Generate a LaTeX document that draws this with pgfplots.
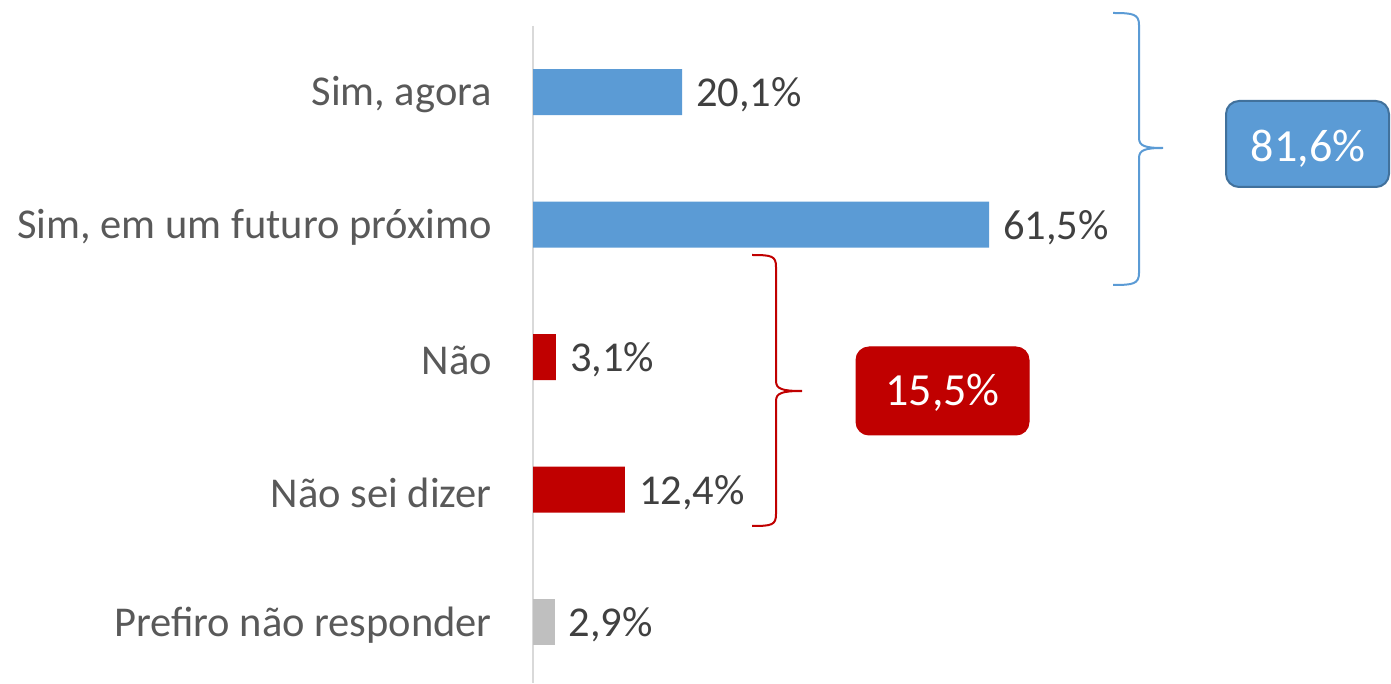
\documentclass[border=0pt]{standalone}
\usepackage{fontspec}
\setmainfont{Carlito}
\usepackage{pgfplots}
\pgfplotsset{compat=1.18}
\definecolor{barblue}{HTML}{5B9BD5}
\definecolor{barred}{HTML}{C00000}
\definecolor{bargray}{HTML}{BFBFBF}
\definecolor{labgray}{HTML}{595959}
\definecolor{valgray}{HTML}{404040}
\definecolor{boxedge}{HTML}{41719C}
\begin{document}
\begin{tikzpicture}
\begin{axis}[at={(533pt,0pt)},anchor=south west,
scale only axis,width=858pt,height=657.25pt,
xmin=0,xmax=115.7,ymin=-0.5,ymax=4.4604,y dir=reverse,
xbar,bar width=46pt,bar shift=0pt,
axis x line=none,axis y line=left,
y axis line style={draw=black!15,line width=1.5pt,-},
ytick={0,1,2,3,4},
yticklabels={{Sim, agora},{Sim, em um futuro próximo},{Não},{Não sei dizer},{Prefiro não responder}},
major tick length=0pt,
yticklabel style={font=\fontsize{42.5}{50}\selectfont,text=labgray,anchor=east,inner sep=0pt,xshift=-41pt,yshift=-3pt},
nodes near coords={\pgfmathprintnumber[fixed,fixed zerofill,precision=1,use comma,assume math mode=true]{\pgfplotspointmeta}\%},
nodes near coords style={font=\fontsize{42.5}{50}\selectfont,text=valgray,anchor=west,inner sep=0pt,xshift=14pt,yshift=-3pt},
point meta=x,clip=false]
\addplot[draw=none,fill=barblue] coordinates {(20.1,0) (61.5,1)};
\addplot[draw=none,fill=barred] coordinates {(3.1,2) (12.4,3)};
\addplot[draw=none,fill=bargray] coordinates {(2.9,4)};
\end{axis}
\begin{scope}[shift={(0pt,683pt)},x=1pt,y=-1pt]
\draw[barblue,line width=2pt] (1113,13) .. controls (1133,13) and (1139,14) .. (1139,25) -- (1139,138)
  .. controls (1139,146) and (1145,148) .. (1163,148) .. controls (1145,148) and (1139,150) .. (1139,158)
  -- (1139,273) .. controls (1139,284) and (1133,285) .. (1113,285);
\draw[barred,line width=2pt] (752,255) .. controls (772,255) and (776,256) .. (776,267) -- (776,381)
  .. controls (776,389) and (782,391) .. (802,391) .. controls (782,391) and (776,393) .. (776,401)
  -- (776,514) .. controls (776,525) and (772,526) .. (752,526);
\draw[fill=barblue,draw=boxedge,line width=2pt,rounded corners=13pt] (1226,101) rectangle (1389,187);
\node[text=white,font=\fontsize{46}{54}\selectfont] at (1308,149) {81,6\%};
\draw[fill=barred,draw=barred,line width=1pt,rounded corners=13pt] (856,347) rectangle (1029,435);
\node[text=white,font=\fontsize{46}{54}\selectfont] at (942.5,393) {15,5\%};
\end{scope}
\pgfresetboundingbox
\useasboundingbox (0,0) rectangle (1391pt,683pt);
\end{tikzpicture}
\end{document}
